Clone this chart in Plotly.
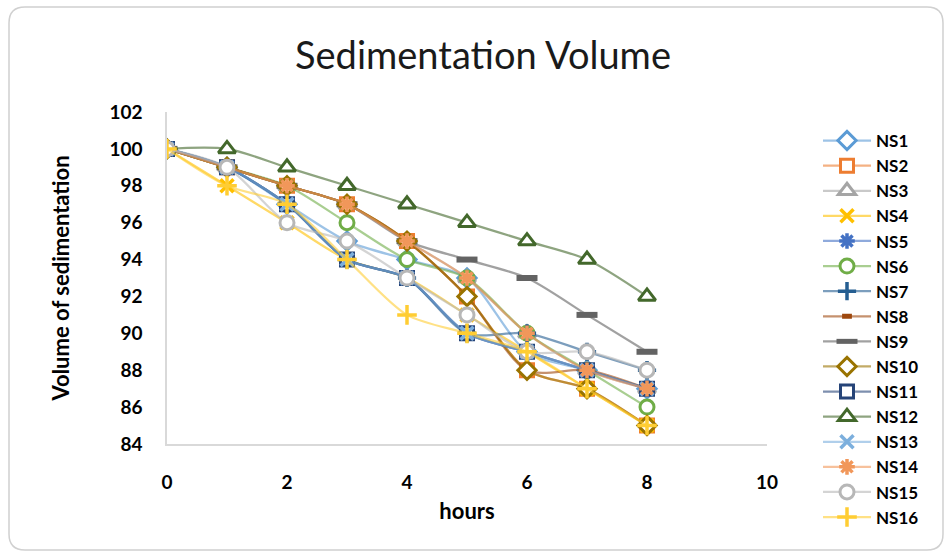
import plotly.graph_objects as go

# Sedimentation volume readings per formulation, taken every hour
hours = [0, 1, 2, 3, 4, 5, 6, 7, 8]

NS1 = [100, 99, 97, 95, 94, 93, 89, 88, 87]
NS2 = [100, 99, 98, 97, 95, 92, 88, 87, 85]
NS3 = [100, 99, 98, 97, 95, 93, 90, 88, 87]
NS4 = [100, 98, 96, 94, 93, 91, 89, 87, 85]
NS5 = [100, 99, 97, 94, 93, 90, 89, 88, 87]
NS6 = [100, 99, 98, 96, 94, 93, 90, 88, 86]
NS7 = [100, 99, 97, 94, 93, 90, 90, 89, 88]
NS8 = [100, 99, 98, 97, 95, 92, 88, 88, 87]
NS9 = [100, 99, 98, 97, 95, 94, 93, 91, 89]
NS10 = [100, 99, 98, 97, 95, 92, 88, 87, 85]
NS11 = [100, 99, 97, 94, 93, 90, 89, 88, 87]
NS12 = [100, 100, 99, 98, 97, 96, 95, 94, 92]
NS13 = [100, 99, 97, 94, 93, 90, 89, 88, 87]
NS14 = [100, 99, 98, 97, 95, 93, 90, 88, 87]
NS15 = [100, 99, 96, 95, 93, 91, 89, 89, 88]
NS16 = [100, 98, 97, 94, 91, 90, 89, 87, 85]

names = ["NS1", "NS2", "NS3", "NS4", "NS5", "NS6", "NS7", "NS8",
         "NS9", "NS10", "NS11", "NS12", "NS13", "NS14", "NS15", "NS16"]
values = [NS1, NS2, NS3, NS4, NS5, NS6, NS7, NS8,
          NS9, NS10, NS11, NS12, NS13, NS14, NS15, NS16]

colors = ["#5B9BD5", "#ED7D31", "#A5A5A5", "#FFC000", "#4472C4", "#70AD47",
          "#255E91", "#9E480E", "#636363", "#997300", "#264478", "#43682B",
          "#7CAFDD", "#F1975A", "#B7B7B7", "#FFCD33"]

# (symbol, size, white-filled?, outline width)
markers = [
    ("diamond", 14, True, 3), ("square", 13, True, 3), ("triangle-up", 15, True, 3),
    ("x-thin", 13, False, 3.5), ("asterisk", 13, False, 3.5), ("circle", 14, True, 3),
    ("cross-thin", 13, False, 3.5), ("line-ew", 7, False, 5),
    ("line-ew", 15, False, 6), ("diamond", 14, True, 3), ("square", 13, True, 3),
    ("triangle-up", 15, True, 3), ("x-thin", 13, False, 3.5), ("asterisk", 13, False, 3.5),
    ("circle", 14, True, 3), ("cross-thin", 14, False, 3.5),
]


def rgba(hex_color, alpha):
    h = hex_color.lstrip("#")
    r, g, b = int(h[0:2], 16), int(h[2:4], 16), int(h[4:6], 16)
    return f"rgba({r},{g},{b},{alpha})"


fig = go.Figure()
for name, ys, col, mk in zip(names, values, colors, markers):
    sym, size, filled, lw = mk
    fig.add_trace(go.Scatter(
        x=hours, y=ys, name=name, mode="lines+markers",
        line=dict(color=rgba(col, 0.6), width=2.25, shape="spline", smoothing=0.8),
        marker=dict(symbol=sym, size=size,
                    color="white" if filled else col,
                    line=dict(color=col, width=lw)),
    ))

FONT = "Lato"
L, R, T, B = 167, 177, 112, 109
W, H = 944, 553
pw, ph = W - L - R, H - T - B


def px_to_paper(x, y):
    return (x - L) / pw, (H - B - y) / ph


# Rounded chart frame
x0, y0, x1, y1, rad = 9, 7, 943, 550, 16


def P(x, y):
    a, b = px_to_paper(x, y)
    return f"{a:.5f},{b:.5f}"


path = (f"M {P(x0 + rad, y0)} L {P(x1 - rad, y0)} Q {P(x1, y0)} {P(x1, y0 + rad)} "
        f"L {P(x1, y1 - rad)} Q {P(x1, y1)} {P(x1 - rad, y1)} "
        f"L {P(x0 + rad, y1)} Q {P(x0, y1)} {P(x0, y1 - rad)} "
        f"L {P(x0, y0 + rad)} Q {P(x0, y0)} {P(x0 + rad, y0)} Z")
fig.add_shape(type="path", path=path, xref="paper", yref="paper",
              line=dict(color="#D0D0D0", width=1.5), layer="below")

lx, ly = px_to_paper(818, 123)

fig.update_layout(
    width=W, height=H,
    margin=dict(l=L, r=R, t=T, b=B, autoexpand=False),
    paper_bgcolor="white", plot_bgcolor="white",
    font=dict(family=FONT, color="black"),
    title=dict(text="Sedimentation Volume", x=483 / W, xanchor="center",
               y=1 - 56 / H, yanchor="middle",
               font=dict(family=FONT, size=38, color="#1a1a1a")),
    xaxis=dict(range=[0, 10], tickvals=[0, 2, 4, 6, 8, 10], showgrid=False,
               zeroline=False, showline=True, linecolor="#D9D9D9", linewidth=1.5,
               ticks="", ticklabelstandoff=20,
               tickfont=dict(family=FONT, size=19, color="black", weight="bold"),
               title=dict(text="hours", standoff=12,
                          font=dict(family=FONT, size=22, color="black", weight="bold"))),
    yaxis=dict(range=[84, 102], tickvals=list(range(84, 103, 2)), showgrid=False,
               zeroline=False, showline=True, linecolor="#D9D9D9", linewidth=1.5,
               ticks="", ticklabelstandoff=19,
               tickfont=dict(family=FONT, size=19, color="black", weight="bold"),
               title=dict(text="Volume of sedimentation", standoff=34,
                          font=dict(family=FONT, size=22, color="black", weight="bold"))),
    legend=dict(x=lx, y=ly, xanchor="left", yanchor="top",
                font=dict(family=FONT, size=17, color="black", weight="bold"),
                itemwidth=48, maxheight=H, tracegroupgap=0,
                bgcolor="rgba(0,0,0,0)"),
    showlegend=True,
)

fig.write_html("out.html")
